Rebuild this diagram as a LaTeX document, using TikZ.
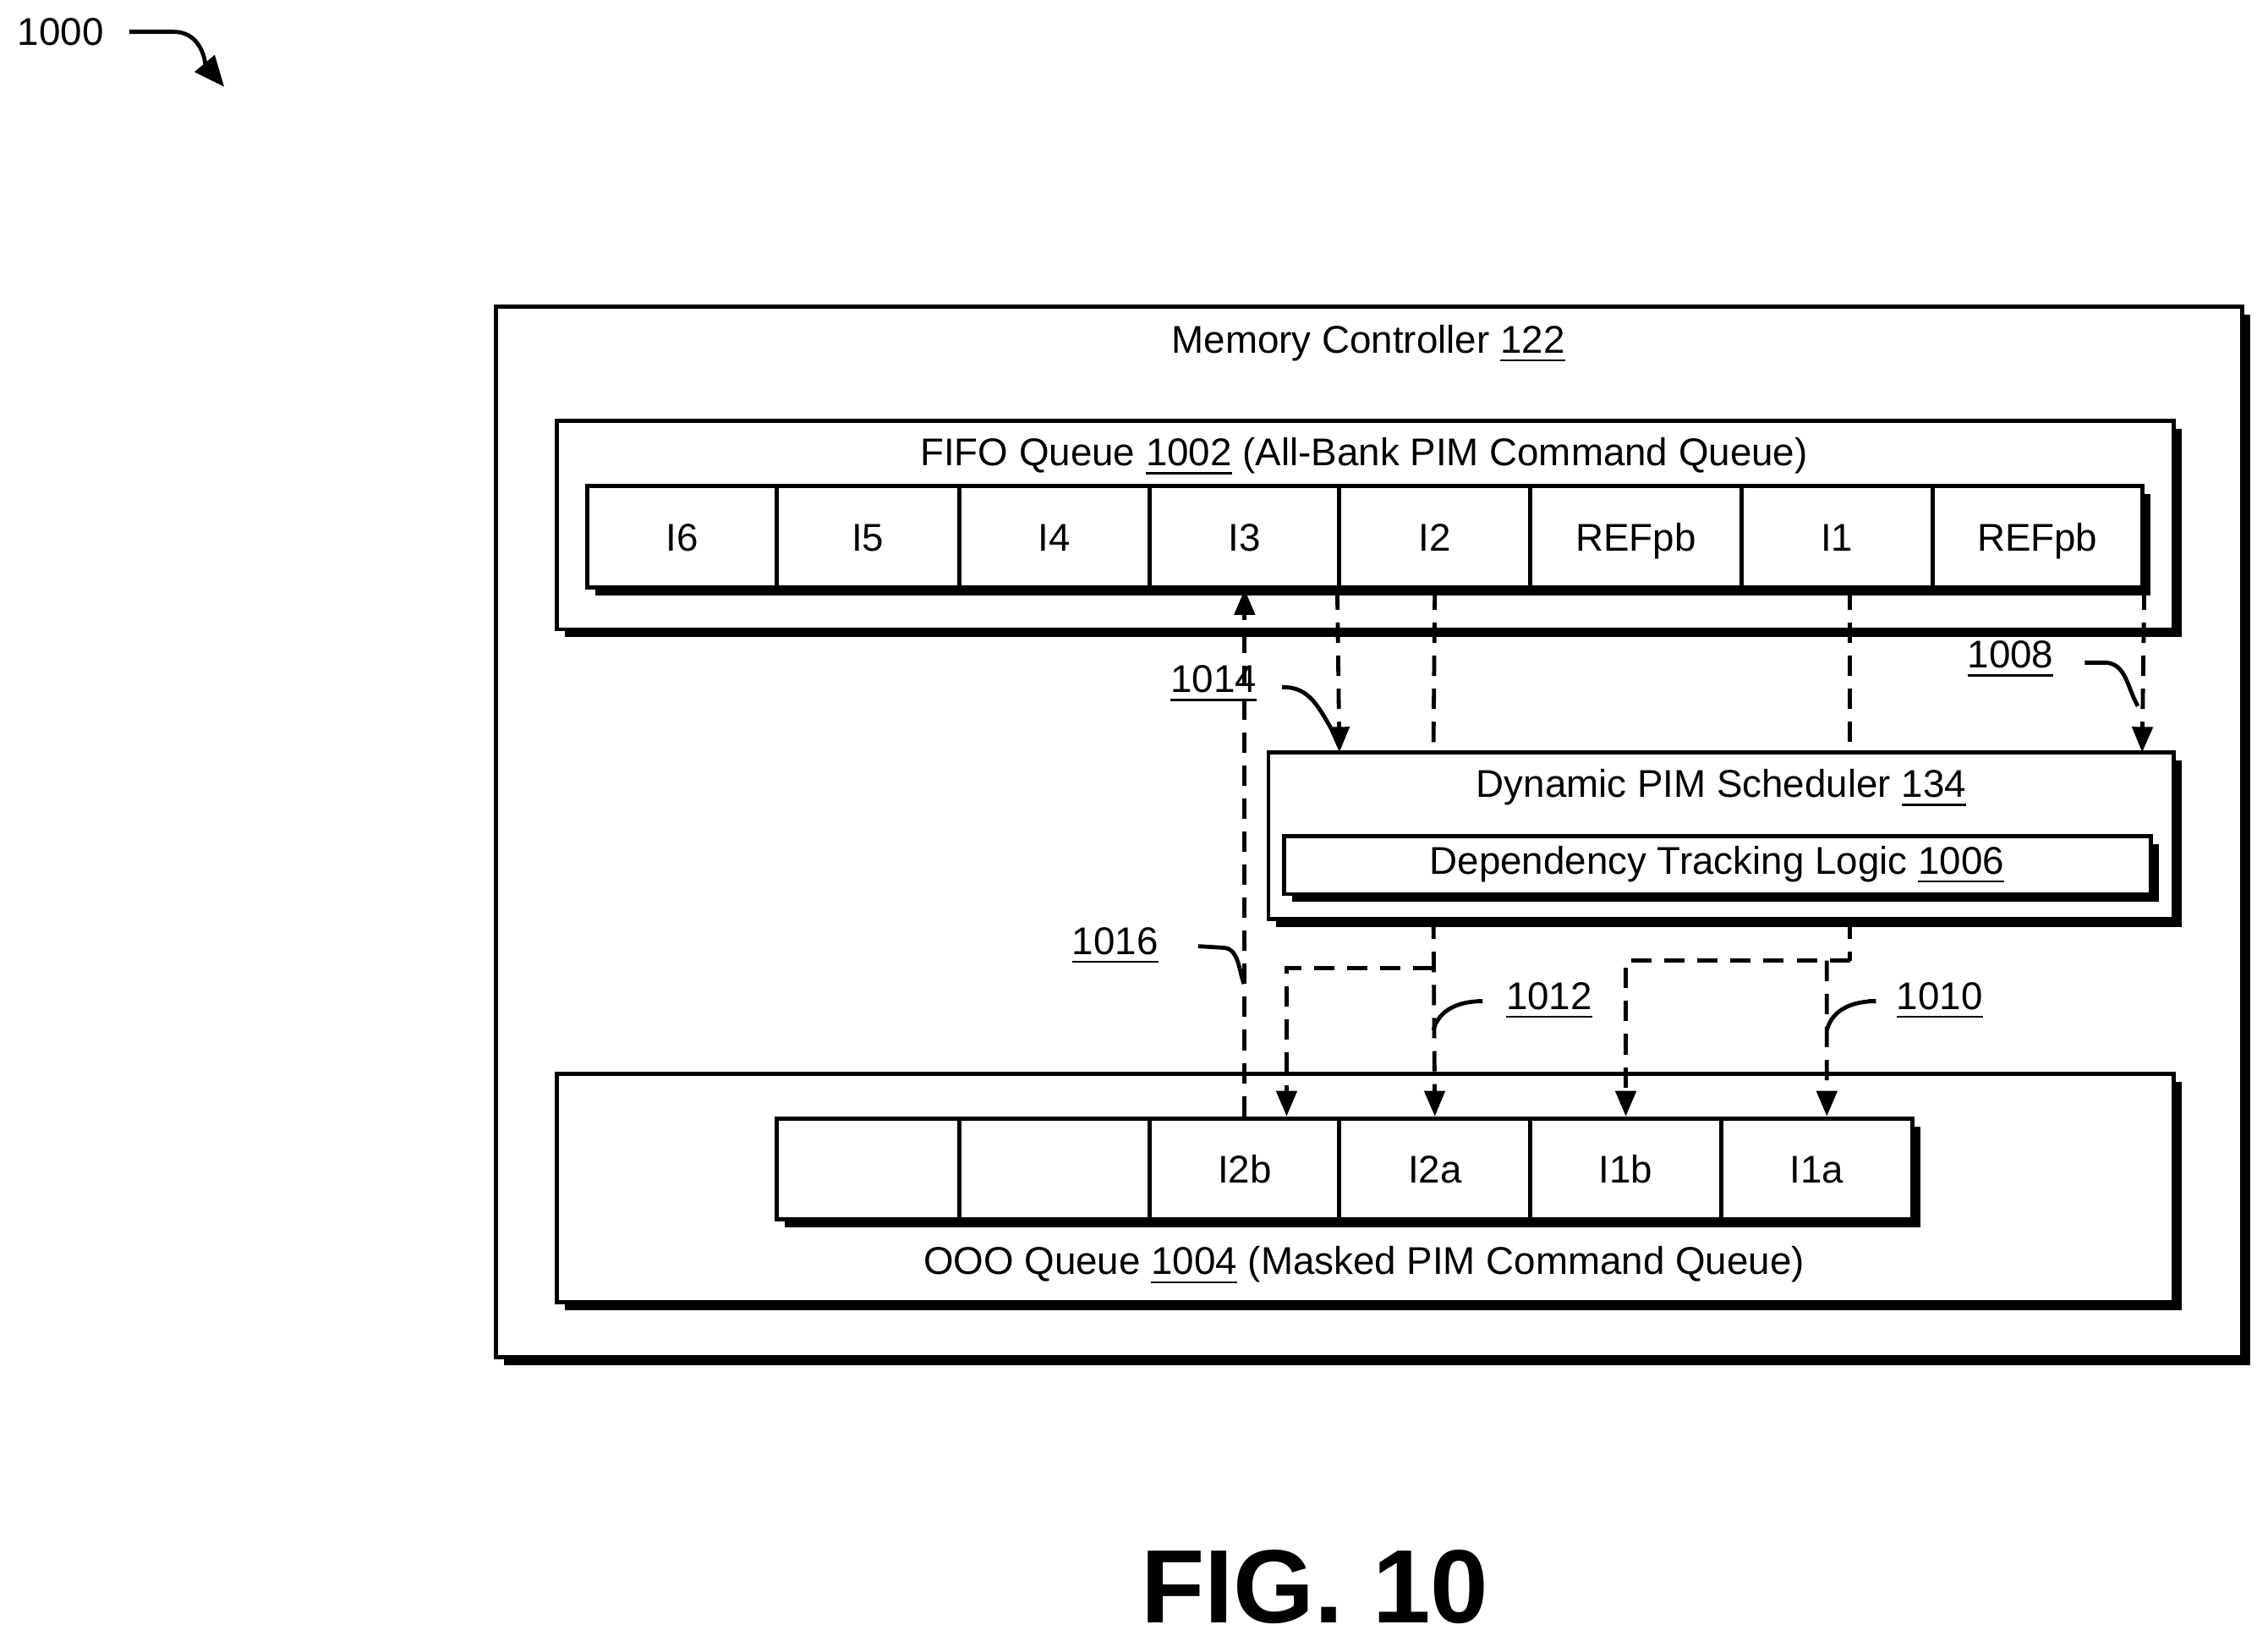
\documentclass[tikz,border=0pt]{standalone}
\usepackage{fontspec}
\setmainfont{Liberation Sans}
\usetikzlibrary{shadows,arrows.meta}
\tikzset{
  box/.style={draw, line width=0.8pt, fill=white, inner sep=0pt,
    drop shadow={shadow xshift=0.55mm, shadow yshift=-0.55mm, opacity=1, fill=black}},
  cell/.style={draw, line width=0.8pt, inner sep=0pt, minimum height=0.7cm,
    text height=1.7ex, text depth=0.3ex},
  link/.style={line width=0.8pt, dash pattern=on 4pt off 2.5pt},
  tip/.style={-{Triangle[length=5pt,width=4pt]}},
  lead/.style={line width=0.8pt},
}
\begin{document}
\fontsize{7.6}{9}\selectfont
\begin{tikzpicture}[x=0.01cm,y=-0.01cm]
\useasboundingbox (0,0) rectangle (1568,1134);
% reference label
\node (fig) at (42,22) {1000};
\draw[lead, -{Triangle[length=6pt,width=5pt]}] (fig.east) ++(8,0) -- (120,22) to[out=0,in=130] (155,60);
% memory controller
\draw[box] (343,212) rectangle (1550,938);
\node (mc) at (946,238) {Memory Controller \underline{122}};
% FIFO queue
\draw[box] (385,291) rectangle (1503,435);
\node (fifo) at (943,316) {FIFO Queue \underline{1002} (All-Bank PIM Command Queue)};
\draw[box] (406,336) rectangle (1481,406);
\node[cell, minimum width=1.31cm] (i6) at (471.5,371) {I6};
\node[cell, minimum width=1.26cm] (i5) at (600,371) {I5};
\node[cell, minimum width=1.32cm] (i4) at (729,371) {I4};
\node[cell, minimum width=1.31cm] (i3) at (860.5,371) {I3};
\node[cell, minimum width=1.32cm] (i2) at (992,371) {I2};
\node[cell, minimum width=1.46cm] (ref2) at (1131,371) {REFpb};
\node[cell, minimum width=1.32cm] (i1) at (1270,371) {I1};
\node[cell, minimum width=1.45cm] (ref1) at (1408.5,371) {REFpb};
% scheduler
\draw[box] (877,520) rectangle (1503,635);
\node (sched) at (1190,545) {Dynamic PIM Scheduler \underline{134}};
\draw[box] (888,578) rectangle (1487,618);
\node (dep) at (1187,598) {Dependency Tracking Logic \underline{1006}};
% OOO queue
\draw[box] (385,742) rectangle (1503,900);
\node (ooo) at (943,875) {OOO Queue \underline{1004} (Masked PIM Command Queue)};
\draw[box] (537,773) rectangle (1322,843);
\node[cell, minimum width=1.26cm] (e2) at (600,808) {};
\node[cell, minimum width=1.32cm] (e1) at (729,808) {};
\node[cell, minimum width=1.31cm] (i2b) at (860.5,808) {I2b};
\node[cell, minimum width=1.32cm] (i2a) at (992,808) {I2a};
\node[cell, minimum width=1.32cm] (i1b) at (1124,808) {I1b};
\node[cell, minimum width=1.32cm] (i1a) at (1256,808) {I1a};
% coordinates on the scheduler edges
\coordinate (s1) at (926,520);
\coordinate (s2) at (991,520);
\coordinate (s3) at (1279,520);
\coordinate (s4) at (1481,520);
\coordinate (b2) at (991,635);
\coordinate (b1) at (1279,635);
\coordinate (h2) at (991,669);
\coordinate (h1) at (1279,664);
% links
\draw[link, tip] (i2.south west) -- (s1);
\draw[link] (i2.south) -- (s2);
\draw[link] (i1.south) ++(9,0) -- (s3);
\draw[link, tip] (ref1.south east) -- (s4);
\draw[link, tip] (i2b.north) -- (i3.south);
\draw[link, tip] (b2) -- (i2a.north);
\draw[link, tip] (h2) -| ([xshift=0.29cm]i2b.north);
\draw[link] (b1) -- (h1);
\draw[link, tip] (h1) -| (i1b.north);
\draw[link, tip] (1263,664) -- ([xshift=0.07cm]i1a.north);
% callouts
\node (l1014) at (839,473) {\underline{1014}};
\draw[lead] (l1014.east) ++(8,2) -- (888,475) to[out=0,in=120] (920,503);
\node (l1008) at (1390,456) {\underline{1008}};
\draw[lead] (l1008.east) ++(12,2) -- (1455,458) to[out=0,in=120] (1478,488);
\node (l1016) at (771,654) {\underline{1016}};
\draw[lead] (l1016.east) ++(18,0) -- (845,655) to[out=0,in=110] (860,680);
\node (l1012) at (1071,692) {\underline{1012}};
\draw[lead] (l1012.west) ++(-10,0) -- (1025,692) to[out=180,in=75] (991,712);
\node (l1010) at (1341,692) {\underline{1010}};
\draw[lead] (l1010.west) ++(-10,0) -- (1297,692) to[out=180,in=75] (1263,712);
% figure title
\node[font=\fontsize{20.5}{24}\selectfont\bfseries] (title) at (909,1097) {FIG. 10};
\end{tikzpicture}
\end{document}
